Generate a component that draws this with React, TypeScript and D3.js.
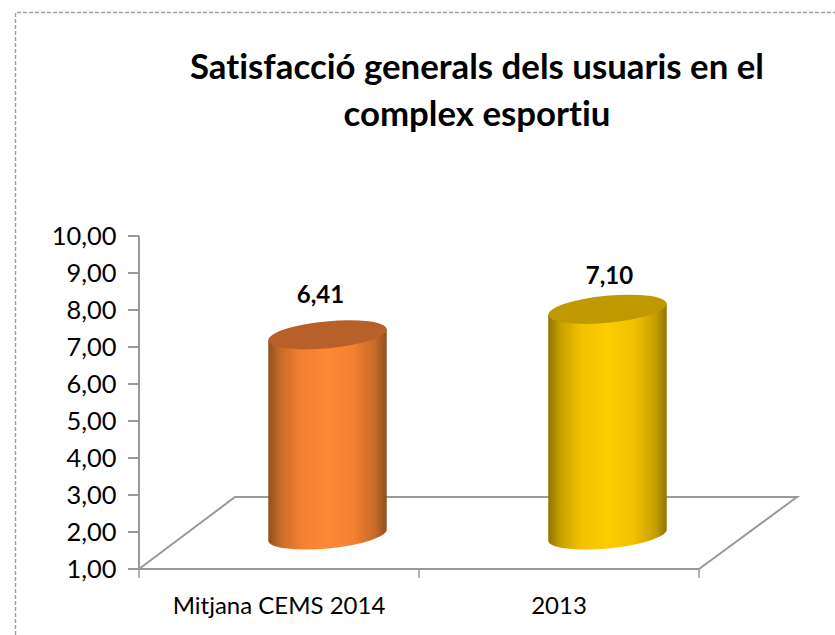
import React from "react";
import * as d3 from "d3";

const categories = ["Mitjana CEMS 2014", "2013"];
const values = [6.41, 7.1];
const valueLabels = ["6,41", "7,10"];
const yTicks = [1, 2, 3, 4, 5, 6, 7, 8, 9, 10];
const titleLines = ["Satisfacció generals dels usuaris en el", "complex esportiu"];
const palettes = [
  { id: "g0", edge: "#8f4e1e", mid: "#ff8833", cap: "#b8602a" },
  { id: "g1", edge: "#8f7400", mid: "#ffcc00", cap: "#bf9900" },
];

const FONT = "Lato, 'Open Sans', sans-serif";
const GREY = "#999999";
const DX = 96;
const DY = 72;
const RX = 59.5;
const RY = 13.5;
const ROT = -5.5;
const LABEL_SHIFT = [
  { dx: -7, dy: -32 },
  { dx: 2, dy: -25 },
];

export default function App() {
  const y = d3.scaleLinear().domain([1, 10]).range([569, 236]);
  const x = d3.scaleBand().domain(categories).range([139, 699]);
  const floorY = y(1);
  const rad = (ROT * Math.PI) / 180;
  const ex = RX * Math.cos(rad);
  const ey = RX * Math.sin(rad);
  const barDx = DX / 2 + 0.5;
  const barDy = 34;
  const noLig = { fontVariantLigatures: "none" } as React.CSSProperties;
  return (
    <svg width={835} height={635} style={{ position: "fixed", left: 0, top: 0, background: "#fff" }}>
      <defs>
        {palettes.map((p) => {
          const mix = d3.interpolateRgb(p.edge, p.mid);
          return (
            <linearGradient key={p.id} id={p.id} x1="0" x2="1" y1="0" y2="0">
              <stop offset="0" stopColor={p.edge} />
              <stop offset="0.1" stopColor={mix(0.5)} />
              <stop offset="0.28" stopColor={mix(0.88)} />
              <stop offset="0.5" stopColor={p.mid} />
              <stop offset="0.72" stopColor={mix(0.88)} />
              <stop offset="0.9" stopColor={mix(0.5)} />
              <stop offset="1" stopColor={p.edge} />
            </linearGradient>
          );
        })}
      </defs>
      <path d="M15.5 635V12.5H835" fill="none" stroke="#a0a0a0" strokeWidth={1.4} strokeDasharray="4 2" />
      {titleLines.map((t, i) => (
        <text key={t} x={477} y={79 + i * 47} textAnchor="middle" fontFamily={FONT} fontWeight={700} fontSize={34.8} fill="#000" style={noLig}>
          {t}
        </text>
      ))}
      <path
        d={`M${x.range()[0]} ${floorY}L${x.range()[0] + DX} ${floorY - DY}H${x.range()[1] + DX + 2}L${x.range()[1]} ${floorY}Z`}
        fill="none"
        stroke={GREY}
        strokeWidth={2}
      />
      <line x1={139} x2={139} y1={y(10)} y2={floorY} stroke={GREY} strokeWidth={2} />
      {yTicks.map((t) => (
        <g key={t}>
          <line x1={128} x2={139} y1={y(t)} y2={y(t)} stroke={GREY} strokeWidth={2} />
          <text x={116.5} y={y(t) + 8.5} textAnchor="end" fontFamily={FONT} fontSize={25.4} fill="#000">
            {d3.format(".2f")(t).replace(".", ",")}
          </text>
        </g>
      ))}
      {[...categories.map((c) => x(c)!), x.range()[1]].map((v) => (
        <line key={v} x1={v} x2={v} y1={floorY} y2={floorY + 9} stroke={GREY} strokeWidth={1.5} />
      ))}
      {categories.map((c, i) => {
        const cx = x(c)! + x.bandwidth() / 2 + barDx;
        const topY = y(values[i]) - barDy;
        const botY = y(1) - barDy;
        const p = palettes[i];
        const body = `M${cx - ex} ${topY - ey}L${cx - ex} ${botY - ey}A${RX} ${RY} ${ROT} 0 0 ${cx + ex} ${botY + ey}L${cx + ex} ${topY + ey}Z`;
        return (
          <g key={c}>
            <path d={body} fill={`url(#${p.id})`} />
            <ellipse cx={cx} cy={topY} rx={RX} ry={RY} fill={p.cap} transform={`rotate(${ROT} ${cx} ${topY})`} />
            <text x={cx + LABEL_SHIFT[i].dx} y={topY + LABEL_SHIFT[i].dy} textAnchor="middle" fontFamily={FONT} fontWeight={700} fontSize={24} fill="#000">
              {valueLabels[i]}
            </text>
            <text x={x(c)! + x.bandwidth() / 2} y={614} textAnchor="middle" fontFamily={FONT} fontSize={24} fill="#000" style={noLig}>
              {c}
            </text>
          </g>
        );
      })}
    </svg>
  );
}
